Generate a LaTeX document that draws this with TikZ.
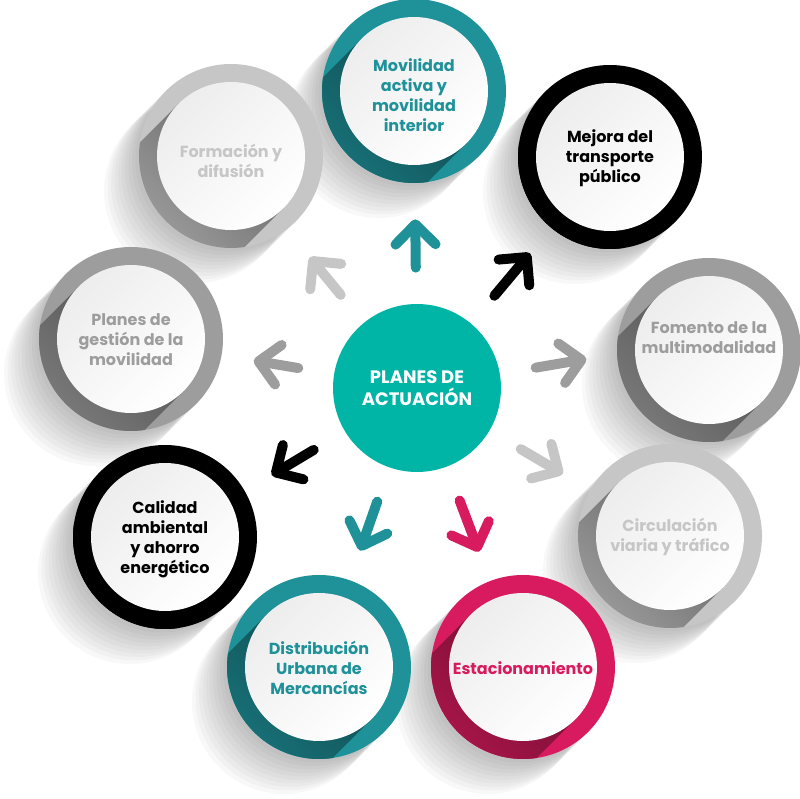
\documentclass[tikz,border=0pt]{standalone}
\usepackage{fontspec}
\setmainfont{Poppins}
\usetikzlibrary{arrows.meta}
\definecolor{tealring}{HTML}{1E9199}
\definecolor{hubgreen}{HTML}{00B4A6}
\definecolor{pinkring}{HTML}{D81B5E}
\definecolor{midgray}{HTML}{9D9D9D}
\definecolor{palegray}{HTML}{C6C6C6}
\definecolor{inkblack}{HTML}{000000}
\tikzset{
  haze/.style={fill=black,opacity=.026},
  disc/.style={top color=black!7,bottom color=white,shading angle=45},
  ringnode/.style={circle,minimum size=92pt,inner sep=0pt,text=#1,align=center,
    font=\bfseries\fontsize{8}{10}\selectfont},
  hub/.style={circle,minimum size=84pt,inner sep=0pt,fill=hubgreen,text=white,align=center,
    font=\bfseries\fontsize{9}{11}\selectfont},
  spoke/.style={line width=5pt,line cap=round,draw=#1,
    -{Straight Barb[length=10pt,width=20pt,round]},shorten <=18pt,shorten >=16pt}
}
% name/x/y/colour/text shift/text
\def\ringlist{mov/414/708/tealring/-4/{Movilidad\\activa y\\movilidad\\interior},
  mejora/610/642/inkblack/-1/{Mejora del\\transporte\\público},
  fomento/709/449/midgray/12/{Fomento de la\\multimodalidad},
  circ/670/263/palegray/-1/{Circulación\\viaria y tráfico},
  estac/523/132/pinkring/-1/{Estacionamiento},
  distr/319/132/tealring/-1/{Distribución\\Urbana de\\Mercancías},
  calidad/165/262/inkblack/-2/{Calidad\\ambiental\\y ahorro\\energético},
  planes/131/460/midgray/-1/{Planes de\\gestión de la\\movilidad},
  formacion/231/643/palegray/-5/{Formación y\\difusión}}
\begin{document}
\begin{tikzpicture}[x=0.5pt,y=0.5pt]
\useasboundingbox (0,0) rectangle (800,799);
% soft shadows down-left of every ring
\foreach \nm/\px/\py/\col/\dy/\txt in \ringlist {
  \foreach \k in {1,...,10} \fill[haze] (\px-3.5*\k,\py-3.5*\k) circle (92);
}
% rings with long shadow and white disc
\foreach \nm/\px/\py/\col/\dy/\txt in \ringlist {
  \begin{scope}[shift={(\px,\py)}]
    \fill[\col] (0,0) circle (92);
    \begin{scope}
      \clip (0,0) circle (92);
      \shade[top color=\col!55!black,bottom color=\col,shading angle=-45]
        (135:74) -- (315:74) -- ++(225:200) -- ++(135:148) -- cycle;
    \end{scope}
    \shade[disc] (0,0) circle (74);
  \end{scope}
  \node[ringnode=\col] (\nm) at (\px,\py+\dy) {\txt};
}
\node[hub] (hub) at (417,411) {PLANES DE\\ACTUACIÓN};
\foreach \nm/\col in {mov/tealring,mejora/inkblack,fomento/midgray,circ/palegray,estac/pinkring,
  distr/tealring,calidad/inkblack,planes/midgray,formacion/palegray}
  \draw[spoke=\col] (hub) -- (\nm);
\end{tikzpicture}
\end{document}
